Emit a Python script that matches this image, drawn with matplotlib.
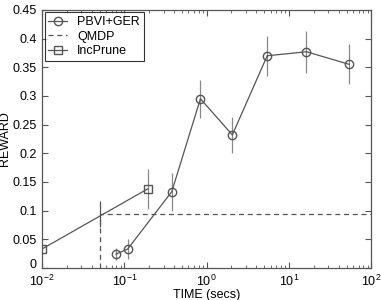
import matplotlib
matplotlib.use("Agg")
import matplotlib.pyplot as plt
import matplotlib.transforms as mtransforms
from matplotlib.ticker import FormatStrFormatter, LogLocator

plt.rcParams['font.family'] = ['Liberation Sans', 'DejaVu Sans']
plt.rcParams['mathtext.fontset'] = 'custom'
plt.rcParams['mathtext.rm'] = 'Liberation Sans'
plt.rcParams['mathtext.it'] = 'Liberation Sans'

# PBVI+GER
pbvi_time = [0.079, 0.11, 0.377, 0.84, 2.05, 5.44, 16.3, 54]
pbvi_reward = [0.024, 0.033, 0.133, 0.295, 0.232, 0.370, 0.377, 0.355]
pbvi_err = [0.010, 0.017, 0.033, 0.033, 0.032, 0.035, 0.037, 0.035]

# QMDP
qmdp_time = [0.05, 0.05, 100]
qmdp_reward = [0.0, 0.094, 0.094]
qmdp_err = [0.0, 0.023, 0.0]

# IncPrune
inc_time = [0.01, 0.193]
inc_reward = [0.033, 0.138]
inc_err = [0.0, 0.035]

line_c = '#555555'
err_c = '#888888'

fig = plt.figure(figsize=(3.82, 3.0), dpi=100)
ax = fig.add_axes([0.110, 0.107, 0.862, 0.860])

h1 = ax.errorbar(pbvi_time, pbvi_reward, yerr=pbvi_err, color=line_c, ecolor=err_c,
                 marker='o', markersize=6, markerfacecolor='none', markeredgecolor=line_c,
                 linewidth=0.9, elinewidth=0.9, capsize=0)
h2, = ax.plot(qmdp_time, qmdp_reward, color=line_c, linestyle=(0, (4, 3)), linewidth=0.9)
ax.errorbar(qmdp_time[1:2], qmdp_reward[1:2], yerr=qmdp_err[1:2], color=line_c,
            ecolor=line_c, linestyle='none', elinewidth=0.9, capsize=0)
h3 = ax.errorbar(inc_time, inc_reward, yerr=inc_err, color=line_c, ecolor=err_c,
                 marker='s', markersize=6, markerfacecolor='none', markeredgecolor=line_c,
                 linewidth=0.9, elinewidth=0.9, capsize=0)

ax.set_xscale('log')
ax.set_xlim(0.01, 100)
ax.set_ylim(0, 0.45)
ax.set_yticks([0, 0.05, 0.1, 0.15, 0.2, 0.25, 0.3, 0.35, 0.4, 0.45])
ax.yaxis.set_major_formatter(FormatStrFormatter('%g'))
ax.xaxis.set_minor_locator(LogLocator(base=10, subs=range(2, 10), numticks=20))

ax.tick_params(which='both', direction='in', top=True, right=True,
               labelsize=9, colors='black')
ax.tick_params(axis='x', which='major', pad=4)
ax.tick_params(axis='y', which='major', pad=4)
ax.tick_params(which='major', length=4, color='#555555')
ax.tick_params(which='minor', length=2, color='#555555')
for s in ax.spines.values():
    s.set_color('#555555')
    s.set_linewidth(0.9)

# nudge the "0" label up a little so it clears the 10^-2 label
fig.canvas.draw()
zero_lbl = ax.get_yticklabels()[0]
zero_lbl.set_transform(zero_lbl.get_transform() +
                       mtransforms.ScaledTranslation(0, 3 / 72, fig.dpi_scale_trans))

ax.set_xlabel('TIME (secs)', fontsize=9, labelpad=0)
ax.set_ylabel('REWARD', fontsize=9, labelpad=1)

leg = ax.legend([h1[0], h2, h3[0]], ['PBVI+GER', 'QMDP', 'IncPrune'], loc='upper left',
                fontsize=9, frameon=True, fancybox=False,
                borderaxespad=0.2, handlelength=1.5, borderpad=0.3,
                labelspacing=0.2, handletextpad=0.8)
leg.get_frame().set_edgecolor('black')
leg.get_frame().set_linewidth(0.8)

fig.savefig('out.png', dpi=100)
